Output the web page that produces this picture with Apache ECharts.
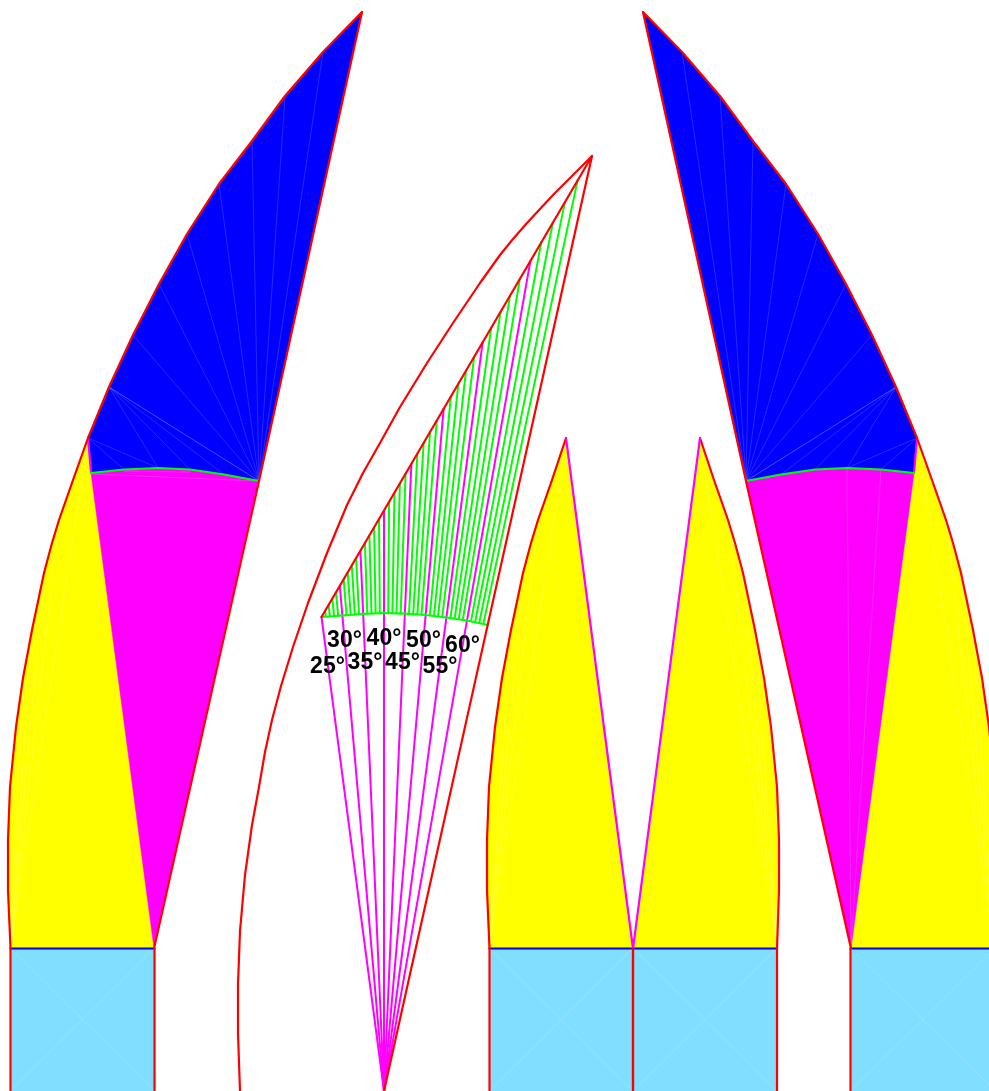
<!DOCTYPE html>
<html><head><meta charset="utf-8">
<style>html,body{margin:0;padding:0;background:#fff}#c{width:989px;height:1091px}</style>
<script src="https://cdn.jsdelivr.net/npm/echarts@6/dist/echarts.min.js"></script>
</head><body><div id="c"></div>
<script>
// ---- outlines: [x, y] ----
const leftLowerEdge  = [[10.5,948.5],[8,890],[8,840],[10,787],[16,727],[23,678],[32,630],[44,573],[52,543],[59,520],[73,480],[88,438]];
const leftUpperEdge  = [[88,438],[109,387],[133,335],[159,284],[187,234],[219,184],[252,141],[285,96],[323,52],[362,12]];
const leftArc        = [[91,473],[124,469.5],[158,468],[190,469.5],[224,474.5],[259,481]];
const leftBack       = [[362,12],[259,481],[154,948.5]];
const rightLowerEdge = [[994.5,948.5],[997,890],[997,840],[995,787],[989,727],[982,678],[973,630],[961,573],[953,543],[946,520],[932,480],[917,438]];
const rightUpperEdge = [[917,438],[896,387],[872,335],[846,284],[818,234],[786,184],[753,141],[720,96],[682,52],[643,12]];
const rightArc       = [[914,473],[881,469.5],[847,468],[815,469.5],[781,474.5],[746,481]];
const rightBack      = [[643,12],[746,481],[851,948.5]];
const midLeftEdge    = [[489.5,948.5],[487,890],[487,840],[489,787],[495,727],[502,678],[511,630],[523,573],[531,543],[538,520],[552,480],[566,438]];
const midRightEdge   = [[777,948.5],[779,890],[779,840],[777,787],[771,727],[764,678],[755,630],[743,573],[735,543],[728,520],[714,480],[700,438]];
const midValley      = [633,948.5];
const centreOuter    = [[240,1091],[238,1034],[238,984],[240,931],[245,875],[252,825],[259,787],[265,752],[272,720],[281,686],[293,647],[308,603],[327,553],[347,505],[363,473],[380,443],[400,407],[427,363],[453,323],[480,283],[500,255],[513,239],[527,223],[553,195],[592,156]];
const centreInner    = [[321.5,617],[592,156],[384,1091]];
const centreArc      = [[321.5,617],[342.4,615.5],[363.1,613.8],[384,613],[404.9,613.7],[425.7,615],[446.4,617.5],[466.9,620.5],[488,625]];
const fanHub         = [384,1091];
const baseRows       = [[10.5,154.5],[489.5,633],[633,777],[850.5,995]];
const baseTop = 948.5, baseBottom = 1091;

// ---- 5-degree fan lines: end point on the top edge ----
const fanLabels = ['25°','30°','35°','40°','45°','50°','55°','60°'];
const fanTopX   = [321.5,339.8,360.4,384,411.4,443.7,482.7,530.5];
const fanTopY   = [617,585.8,550.6,510.3,463.5,408.3,341.9,260.3];
const labelX    = [327.5,344.5,365,384,402.5,423.5,440,462.5];
const labelY    = [667,641,663,639,663,641,667,646];

// ---- 1-degree hatch lines: arc end and top-edge end ----
const hatchArcX = [325.7,329.9,334.1,338.2,346.5,350.7,354.8,359.0,367.3,371.5,375.6,379.8,388.2,392.4,396.5,400.7,409,413.2,417.3,421.5,429.8,433.9,438,442.2,450.4,454.6,458.7,462.8,471,475.1,479.2,483.3];
const hatchArcY = [616.6,616.3,616,615.8,615.1,614.8,614.4,614.1,613.6,613.4,613.2,613.1,613.1,613.2,613.3,613.5,614,614.2,614.5,614.7,615.5,616,616.5,617,618.1,618.7,619.3,619.9,621.4,622.3,623.2,624.1];
const hatchTopX = [325.1,328.6,332.3,336,343.7,347.7,351.8,356.1,364.9,369.4,374.1,379,389.1,394.5,399.9,405.6,417.4,423.7,430.1,436.8,450.9,458.4,466.1,474.2,491.3,500.6,510.1,520,541.4,553,565.1,577.8];
const hatchTopY = [611,604.9,598.7,592.3,579.1,572.2,565.3,558,543,535.2,527.2,518.8,501.6,492.4,483.1,473.5,453.3,442.6,431.6,420.2,396.1,383.3,370.1,356.3,327.1,311.3,295.1,278.1,241.6,221.8,201.1,179.4];

// ---- faint seams between mesh triangles: [x1,y1,x2,y2] ----
const seams = [
 [259,481,323,52],[259,481,285,96],[259,481,252,141],[259,481,219,184],[259,481,187,234],[259,481,159,284],[259,481,133,335],[259,481,109,387],
 [109,387,158,468],[109,387,190,469.5],[109,387,224,474.5],[109,387,259,481],[88,438,124,469.5],[88,438,158,468],
 [91,474,259,481],[124,471,190,472],
 [10.5,948,88,438],[10.5,948,59,520],[10.5,948,44,573],[10.5,948,32,630],[10.5,948,23,678],
 [10.5,948,154.5,1091],[154.5,948,10.5,1091],
 [489.5,948,566,438],[489.5,948,538,520],[489.5,948,523,573],[489.5,948,511,630],
 [489.5,948,633,1091],[633,948,489.5,1091],
 [777,948,700,438],[777,948,728,520],[777,948,743,573],[777,948,755,630],
 [633,948,777,1091],[777,948,633,1091],
 [746,481,682,52],[746,481,720,96],[746,481,753,141],[746,481,786,184],[746,481,818,234],[746,481,846,284],[746,481,872,335],[746,481,896,387],
 [896,387,847,468],[896,387,815,469.5],[896,387,781,474.5],[896,387,746,481],[917,438,881,469.5],[917,438,847,468],
 [851,948,847,468],[851,948,881,469.5],
 [994.5,948,917,438],[994.5,948,946,520],[994.5,948,961,573],[994.5,948,973,630],
 [850.5,948,995,1091],[995,948,850.5,1091]
];

const RED='#ff0000', MAGENTA='#ff00ff', GREEN='#00ff00', BLUE='#0000ff', YELLOW='#ffff00', SKY='#80dfff';
let order = 1;

function polygon(points, color){
  return {type:'custom', coordinateSystem:'cartesian2d', silent:true, animation:false, z:order++,
    data:points, encode:{x:0,y:1},
    renderItem(params, api){
      if(params.dataIndex!==0) return null;
      return {type:'polygon', shape:{points:points.map(p=>api.coord(p))}, style:{fill:color, stroke:color, lineWidth:0.5}};
    }};
}
function polyline(points, color, width){
  return {type:'line', coordinateSystem:'cartesian2d', silent:true, animation:false, z:order++, data:points,
    symbol:'none', showSymbol:false, lineStyle:{color:color, width:width||2.2, join:'round', cap:'round'}, itemStyle:{color:color}};
}
function segments(rows, color, width){
  return {type:'custom', coordinateSystem:'cartesian2d', silent:true, animation:false, z:order++, data:rows,
    encode:{x:[0,2], y:[1,3]},
    renderItem(params, api){
      const a=api.coord([api.value(0),api.value(1)]), b=api.coord([api.value(2),api.value(3)]);
      return {type:'line', shape:{x1:a[0],y1:a[1],x2:b[0],y2:b[1]}, style:{stroke:color, lineWidth:width, fill:null}};
    }};
}

const hatchRows = hatchArcX.map((x,i)=>[x,hatchArcY[i],hatchTopX[i],hatchTopY[i]]);
const fanRows   = fanTopX.map((x,i)=>[fanHub[0],fanHub[1],x,fanTopY[i]]);
const labelRows = labelX.map((x,i)=>[x,labelY[i],fanLabels[i]]);

const series = [];
baseRows.forEach(r=>series.push(polygon([[r[0],baseTop],[r[1],baseTop],[r[1],baseBottom],[r[0],baseBottom]],SKY)));
// left blade
series.push(polygon(leftLowerEdge.concat([[154,948.5]]),YELLOW));
series.push(polygon(leftArc.concat([[154,948.5]]),MAGENTA));
series.push(polygon(leftUpperEdge.concat([[259,481]],leftArc.slice().reverse()),BLUE));
// right blade
series.push(polygon(rightLowerEdge.concat([[851,948.5]]),YELLOW));
series.push(polygon(rightArc.concat([[851,948.5]]),MAGENTA));
series.push(polygon(rightUpperEdge.concat([[746,481]],rightArc.slice().reverse()),BLUE));
// middle pair
series.push(polygon(midLeftEdge.concat([midValley]),YELLOW));
series.push(polygon(midRightEdge.concat([midValley]),YELLOW));
// seams
series.push(segments(seams,'rgba(255,255,255,0.2)',0.8));
// interior edges
series.push(polyline([leftUpperEdge[0],leftArc[0]],MAGENTA));
series.push(polyline([rightUpperEdge[0],rightArc[0]],MAGENTA));
baseRows.forEach(r=>series.push(polyline([[r[0],baseTop],[r[1],baseTop]],BLUE)));
series.push(polyline(leftArc,GREEN));
series.push(polyline(rightArc,GREEN));
// centre fan
series.push(segments(hatchRows,GREEN,2));
series.push(segments(fanRows,MAGENTA,2));
series.push(polyline(centreArc,GREEN));
series.push(polyline(centreOuter,RED));
series.push(polyline(centreInner,RED));
// red outlines
series.push(polyline(leftLowerEdge,RED));
series.push(polyline(leftUpperEdge,RED));
series.push(polyline(leftBack,RED));
series.push(polyline(rightLowerEdge,RED));
series.push(polyline(rightUpperEdge,RED));
series.push(polyline(rightBack,RED));
series.push(polyline(midLeftEdge,RED));
series.push(polyline(midRightEdge,RED));
series.push(polyline([midLeftEdge[midLeftEdge.length-1],midValley],MAGENTA));
series.push(polyline([midRightEdge[midRightEdge.length-1],midValley],MAGENTA));
baseRows.forEach(r=>{
  series.push(polyline([[r[0],baseTop],[r[0],baseBottom]],RED));
  series.push(polyline([[r[1],baseTop],[r[1],baseBottom]],RED));
});
// degree labels
series.push({type:'custom', coordinateSystem:'cartesian2d', silent:true, animation:false, z:order++, data:labelRows,
  encode:{x:0,y:1},
  renderItem(params, api){
    const p=api.coord([api.value(0),api.value(1)]);
    return {type:'text', style:{x:p[0], y:p[1], text:labelRows[params.dataIndex][2], fill:'#000',
      font:'bold 23px "Liberation Sans", Arial, sans-serif', align:'center', verticalAlign:'middle'}};
  }});

const chart = echarts.init(document.getElementById('c'),null,{renderer:'canvas',width:989,height:1091});
chart.setOption({
  animation:false, backgroundColor:'#fff',
  grid:{left:0,right:0,top:0,bottom:0},
  xAxis:{type:'value',min:0,max:989,show:false},
  yAxis:{type:'value',min:0,max:1091,inverse:true,show:false},
  tooltip:{show:false}, legend:{show:false},
  series
});
</script></body></html>
